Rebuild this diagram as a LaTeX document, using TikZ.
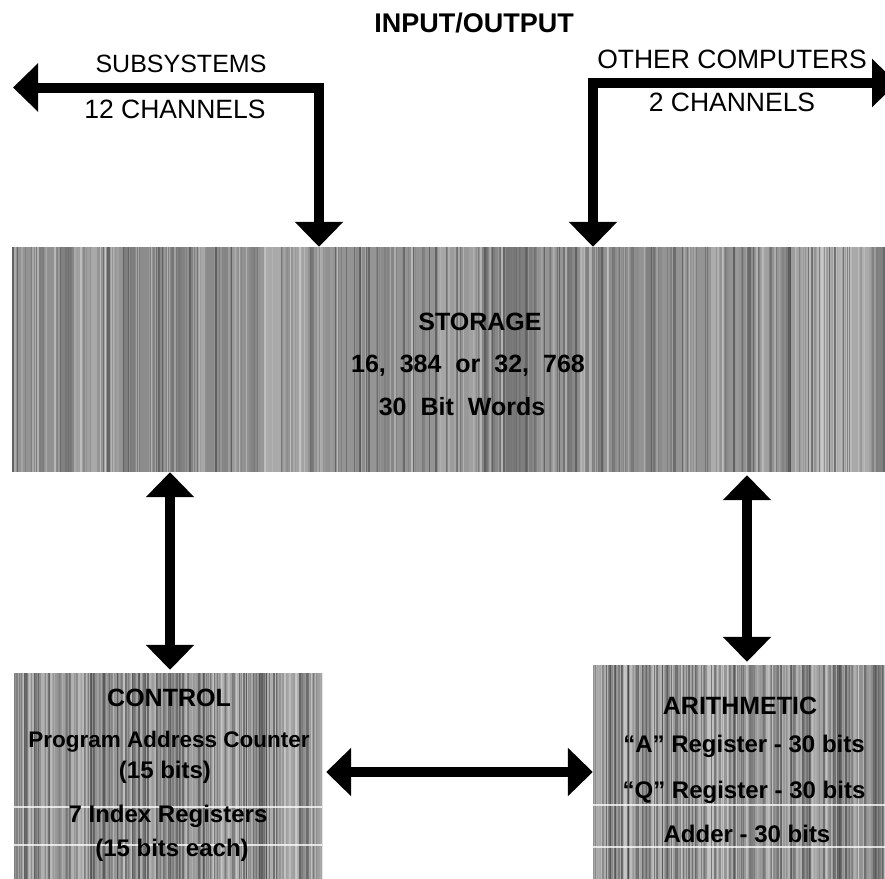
\documentclass[tikz,border=0pt]{standalone}
\usepackage{fontspec}
\setmainfont{Liberation Sans}
\usetikzlibrary{arrows.meta}
\tikzset{
  lbl/.style={inner sep=0pt, font=\fontsize{26.5}{28}\selectfont},
  ttl/.style={inner sep=0pt, font=\fontsize{27}{30}\selectfont\bfseries},
  head/.style={inner sep=0pt, font=\fontsize{25}{28}\selectfont\bfseries, text=black},
  body/.style={inner sep=0pt, font=\fontsize{24}{26}\selectfont\bfseries, text=black},
  boxnode/.style={inner sep=0pt, draw=none},
  conn/.style={line width=10pt, line join=miter},
  tipA/.tip={Triangle[length=25pt,width=47pt]},
}
\newcommand{\stripebox}[4]{%
  \begin{scope}
    \clip (#1,#2) rectangle (#3,#4);
    \fill[black!42] (#1,#2) rectangle (#3,#4);
    \foreach \k in {1,...,90}{%
      \pgfmathsetmacro\xx{#1+rnd*(#3-#1)}%
      \pgfmathsetmacro\ww{4+rnd*22}%
      \pgfmathtruncatemacro\gg{15+rnd*50}%
      \fill[black!\gg, opacity=0.4] (\xx,#2) rectangle ({\xx+\ww},#4);
    }
    \foreach \k in {1,...,380}{%
      \pgfmathsetmacro\xx{#1+rnd*(#3-#1)}%
      \pgfmathsetmacro\ww{0.6+rnd*1.8}%
      \pgfmathtruncatemacro\gg{15+rnd*60}%
      \fill[black!\gg, opacity=0.6] (\xx,#2) rectangle ({\xx+\ww},#4);
    }
  \end{scope}}
\begin{document}
\begin{tikzpicture}[x=1pt,y=-1pt]
\pgfmathsetseed{17}
\useasboundingbox (0,0) rectangle (885,878);
\fill[white] (0,0) rectangle (885,878);

% textured boxes
\stripebox{12}{247}{890}{472}
\stripebox{14}{673}{322}{880}
\stripebox{593}{665}{890}{880}
\draw[white, line width=1.5pt, opacity=0.75] (14,807) -- (322,807);
\draw[white, line width=1.5pt, opacity=0.75] (14,845) -- (322,845);
\draw[white, line width=1.5pt, opacity=0.75] (593,805) -- (885,805);
\draw[white, line width=1.5pt, opacity=0.75] (593,847) -- (885,847);

% box nodes
\node[boxnode, minimum width=873pt, minimum height=225pt] (storage) at (448.5,359.5) {};
\node[boxnode, minimum width=308pt, minimum height=205pt] (control) at (168,775.5) {};
\node[boxnode, minimum width=292pt, minimum height=213pt] (arith) at (739,771.5) {};

% texts
\node[ttl] (title) at (474,23) {INPUT/OUTPUT};
\node[lbl, font=\fontsize{25}{28}\selectfont] (subsys) at (181,64) {SUBSYSTEMS};
\node[lbl] (ch12) at (175,109) {12 CHANNELS};
\node[lbl] (other) at (732,59) {OTHER COMPUTERS};
\node[lbl] (ch2) at (732,102) {2 CHANNELS};

\node[head] (sthead) at (480,322) {STORAGE};
\node[body, font=\fontsize{25}{26}\selectfont\bfseries] (stl1) at (468,366) {16,\hspace{7pt} 384\hspace{7pt} or\hspace{7pt} 32,\hspace{7pt} 768};
\node[body, font=\fontsize{25}{26}\selectfont\bfseries] (stl2) at (462,407) {30\hspace{7pt} Bit\hspace{7pt} Words};

\node[head] (cthead) at (169,698) {CONTROL};
\node[body, font=\fontsize{22.5}{26}\selectfont\bfseries] (ctl1) at (169,742) {Program Address Counter};
\node[body] (ctl2) at (165,772) {(15 bits)};
\node[body] (ctl3) at (168,816) {7 Index Registers};
\node[body] (ctl4) at (172,850) {(15 bits each)};

\node[head] (arhead) at (740,706) {ARITHMETIC};
\node[body] (arl1) at (744,746) {“A” Register - 30 bits};
\node[body] (arl2) at (744,792) {“Q” Register - 30 bits};
\node[body] (arl3) at (747,834) {Adder - 30 bits};

% connector coordinates
\coordinate (subL) at (13,87.5);
\coordinate (subC) at (319,87.5);
\coordinate (othR) at (897,83);
\coordinate (othC) at (593,83);
\coordinate (cL) at (170,0);
\coordinate (cR) at (747,0);
\coordinate (hY) at (0,772);

% connectors
\draw[conn, tipA-tipA] (subL) -- (subC) -- (subC |- storage.north);
\draw[conn, tipA-tipA] (othR) -- (othC) -- (othC |- storage.north);
\draw[conn, tipA-tipA, shorten >=3pt] (storage.south -| cL) -- (control.north -| cL);
\draw[conn, tipA-tipA, shorten <=3pt, shorten >=3pt] (storage.south -| cR) -- (arith.north -| cR);
\draw[conn, tipA-tipA, shorten <=4pt] (control.east |- hY) -- (arith.west |- hY);
\end{tikzpicture}
\end{document}
